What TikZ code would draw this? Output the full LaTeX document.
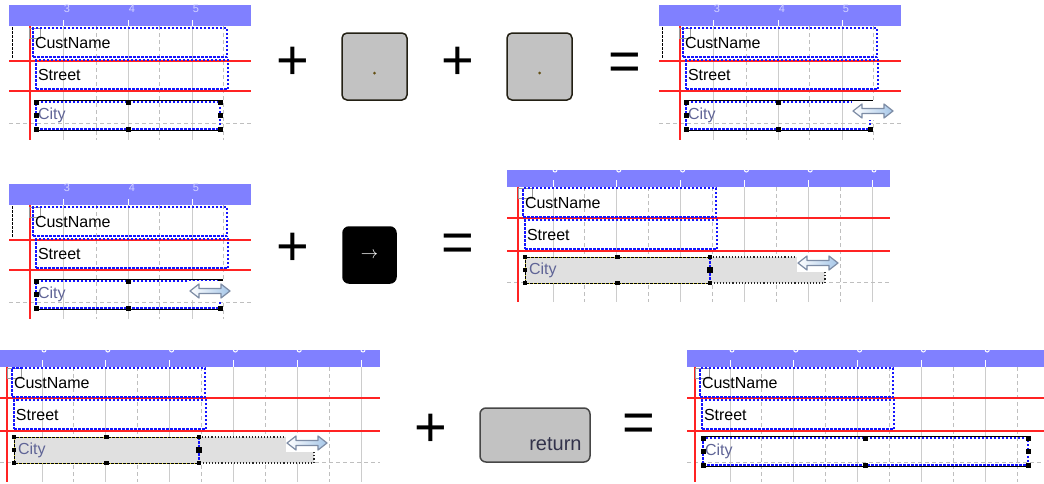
\documentclass[tikz,border=0pt]{standalone}
\usepackage{fontspec}
\setmainfont{Liberation Sans}
\usetikzlibrary{calc}

\definecolor{rulerblue}{RGB}{128,128,255}
\definecolor{rulertext}{RGB}{210,210,255}
\definecolor{fieldblue}{RGB}{20,20,255}
\definecolor{guidered}{RGB}{255,35,35}
\definecolor{citytext}{RGB}{95,100,150}
\definecolor{cityfill}{RGB}{224,224,224}
\definecolor{keygray}{RGB}{194,194,194}
\definecolor{keyedge}{RGB}{35,32,20}
\definecolor{keydot}{RGB}{100,80,20}
\definecolor{returntext}{RGB}{50,50,75}
\definecolor{cursoredge}{RGB}{125,140,165}
\definecolor{cursorblue}{RGB}{165,198,232}

\newcommand{\fieldfont}{\fontsize{16}{18}\selectfont}

% report sheet with numbered ruler; origin = red margin line / ruler top
\newcommand{\sheetA}[1]{%
  \fill[rulerblue] (-21,0) rectangle (221,21);
  \foreach \gx/\num in {33/3,98/4,162/5} {
    \node[rulernum] (num#1\num) at (\gx+4,0) {\num};
    \draw[rulertick] (\gx,15) -- (\gx,21);
    \draw[majorgrid] (\gx,21) -- (\gx,135);
  }
  \foreach \gx in {66,129,193}
    \draw[minorgrid] (\gx,21) -- (\gx,135);
  \draw[minorgrid] (-21,118) -- (221,118);
  \draw[guide] (-21,56) -- (221,56);
  \draw[guide] (-21,86) -- (221,86);
  \draw[guide] (0,21) -- (0,135);
  \draw[black,dash pattern=on 2.5pt off 1.5pt] (-18,22) -- (-18,53);
  \draw[gray!80] (-1,23) rectangle (10,33);
  \node[field=190pt] (cust#1) at (3,23) {CustName};
  \node[field=188pt] (street#1) at (6,55) {Street};
}

% wider sheet, ruler numbers cut off; #2/#3 ruler ends, #4 last grid line
\newcommand{\sheetB}[4]{%
  \fill[rulerblue] (#2,0) rectangle (#3,17);
  \foreach \k [evaluate=\k as \gx using 35+31.9*\k] in {0,...,#4} {
    \ifodd\k
      \draw[minorgrid] (\gx,17) -- (\gx,132);
    \else
      \draw[majorgrid] (\gx,17) -- (\gx,132);
      \draw[rulertick] (\gx,10) -- (\gx,17);
      \draw[rulertick] (\gx,0) arc[start angle=180,end angle=0,radius=2];
    \fi
  }
  \draw[minorgrid] (#2,112) -- (#3,112);
  \draw[guide] (#2,48) -- (#3,48);
  \draw[guide] (#2,81) -- (#3,81);
  \draw[guide] (0,17) -- (0,132);
  \draw[gray!80] (0,18) rectangle (14,28);
  \node[field=189pt] (cust#1) at (5,18) {CustName};
  \node[field=188pt] (street#1) at (7,50) {Street};
}

% selected City field with eight handles
\newcommand{\citybox}[4]{%
  \node[cityfield=#4] (city#1) at (#2,#3) {City};
  \draw[selline] ([yshift=1.5pt]city#1.north west) -- ([yshift=1.5pt]city#1.north east);
  \draw[selline] ([yshift=-1.5pt]city#1.south west) -- ([yshift=-1.5pt]city#1.south east);
  \foreach \p in {north west,north,north east,west,east,south west,south,south east}
    \fill (city#1.\p) +(-2.5,-2.5) rectangle +(2.5,2.5);
}

% horizontal resize pointer on its white patch
\newcommand{\resizecursor}[2]{%
  \fill[white] (#1-21,#2-10) rectangle (#1+21,#2+9);
  \draw[cursorarrow] (#1-20,#2) -- ++(9,-7) -- ++(0,4.5) -- ++(22,0)
    -- ++(0,-4.5) -- ++(9,7) -- ++(-9,7) -- ++(0,-4.5) -- ++(-22,0)
    -- ++(0,4.5) -- cycle;
}

% City field being stretched to the right
\newcommand{\citydrag}[1]{%
  \fill[cityfill] (7,87) rectangle (307,113);
  \draw[ghostline] (192,87) -- (307,87) -- (307,113) -- (192,113);
  \node[dragfield=177pt] (city#1) at (7,87) {City};
  \draw[yellow!85!black,line width=1pt] (city#1.north east) -- (city#1.north west)
    -- (city#1.south west) -- (city#1.south east);
  \draw[dragedge] (city#1.north east) -- (city#1.north west)
    -- (city#1.south west) -- (city#1.south east);
  \draw[fieldblue,dash pattern=on 2.5pt off 1.5pt,line width=1.2pt]
    (city#1.north east) -- (city#1.south east);
  \foreach \p in {north west,north,north east,west,south west,south,south east}
    \fill (city#1.\p) +(-2.2,-2.2) rectangle +(2.2,2.2);
  \fill (city#1.east) +(-3,-3) rectangle +(3,3);
  \resizecursor{300}{93}
}

\begin{document}
\begin{tikzpicture}[x=1pt,y=-1pt,
  guide/.style={guidered,line width=1.3pt},
  majorgrid/.style={gray!40,line width=1pt},
  minorgrid/.style={gray!50,dash pattern=on 4pt off 3pt,line width=0.9pt},
  rulertick/.style={white,line width=1pt},
  rulernum/.style={text=rulertext,font=\fontsize{11}{11}\selectfont,inner sep=0pt,anchor=north},
  field/.style={draw=fieldblue,dash pattern=on 2.5pt off 1.5pt,line width=1.2pt,
    anchor=north west,minimum height=29pt,inner xsep=2pt,inner ysep=0pt,
    outer sep=0pt,text width=#1,font=\fieldfont},
  cityfield/.style={field=#1,minimum height=27pt,text=citytext},
  dragfield/.style={anchor=north west,minimum height=26pt,inner xsep=4pt,inner ysep=0pt,
    outer sep=0pt,text width=#1,text=citytext,font=\fieldfont},
  selline/.style={black,line width=1pt},
  ghostline/.style={black!85,dotted,line width=1.1pt},
  dragedge/.style={black,dash pattern=on 3pt off 1pt,line width=1pt},
  cursorarrow/.style={draw=cursoredge,left color=white,right color=cursorblue,
    line width=1.2pt,line join=round},
  keycap/.style={draw=keyedge,fill=keygray,rounded corners=5pt,line width=1.5pt},
  operator/.style={font={\fontsize{56}{56}\selectfont},inner sep=0pt}]
  \useasboundingbox (0,0) rectangle (1044,483);

  % row 1: select City, press . twice
  \begin{scope}[shift={(30,5)}]
    \sheetA{a}
    \citybox{a}{6}{97}{180}
  \end{scope}
  \node[operator] (plusA) at (293,63.5) {+};
  \node[keycap,minimum width=65pt,minimum height=67pt] (periodA) at (374.5,66.5) {};
  \fill[keydot] ($(periodA.center)+(0,6.5)$) circle[radius=1.5];
  \node[operator] (plusB) at (458,63.5) {+};
  \node[keycap,minimum width=65pt,minimum height=67pt] (periodB) at (539.5,66.5) {};
  \fill[keydot] ($(periodB.center)+(0,6.5)$) circle[radius=1.5];
  \node[operator] (equalsA) at (625,67) {=};
  \begin{scope}[shift={(680,5)}]
    \sheetA{b}
    \citybox{b}{6}{97}{180}
    \resizecursor{193}{106}
  \end{scope}

  % row 2: right arrow key
  \begin{scope}[shift={(30,184)}]
    \sheetA{c}
    \citybox{c}{6}{97}{180}
    \resizecursor{180}{107}
  \end{scope}
  \node[operator] (plusC) at (293,249) {+};
  \node[keycap,fill=black,draw=black,rounded corners=6pt,minimum width=53pt,
    minimum height=56pt,text=white,font=\fontsize{17}{17}\selectfont]
    (arrowkey) at (369.5,255) {$\rightarrow$};
  \node[operator] (equalsB) at (458,247.5) {=};
  \begin{scope}[shift={(518,170)}]
    \sheetB{d}{-11}{372}{10}
    \citydrag{d}
  \end{scope}

  % row 3: return key
  \begin{scope}[shift={(7,350)}]
    \sheetB{e}{-7}{373}{10}
    \citydrag{e}
  \end{scope}
  \node[operator] (plusD) at (431,430) {+};
  \node[keycap,draw=gray!55!black,rounded corners=6pt,minimum width=110pt,
    minimum height=54pt] (returnkey) at (535,435) {};
  \node[anchor=base east,text=returntext,font=\fontsize{20}{20}\selectfont,inner sep=0pt]
    (returnlabel) at ($(returnkey.south east)+(-9,-12)$) {return};
  \node[operator] (equalsC) at (638.5,427.5) {=};
  \begin{scope}[shift={(695,350)}]
    \sheetB{f}{-8}{349}{9}
    \citybox{f}{8}{88}{321}
  \end{scope}
\end{tikzpicture}
\end{document}
